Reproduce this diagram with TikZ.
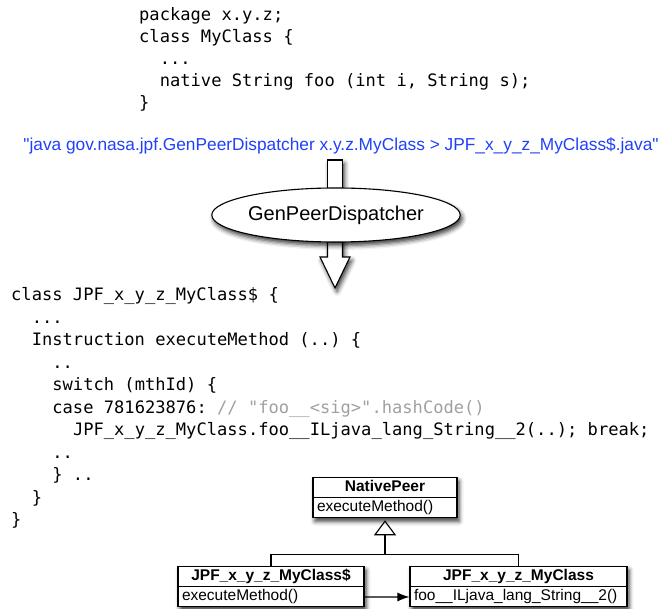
\documentclass[tikz,border=0pt]{standalone}
\usepackage{fontspec}
\setmainfont{Liberation Sans}
\setmonofont{DejaVu Sans Mono}
% plain family: keeps straight quotes as typed
\newfontfamily\cmdfont{Liberation Sans}
\usetikzlibrary{shapes.geometric,shapes.multipart,shadows.blur,arrows.meta,calc}

\definecolor{cmdblue}{RGB}{32,64,250}
\definecolor{cmtgray}{RGB}{160,160,160}
\newcommand\umlstrut{\rule[-3.5pt]{0pt}{15pt}}

\begin{document}
\begin{tikzpicture}[x=1pt,y=-1pt,
  code/.style={anchor=base west,inner sep=0pt,
    font=\ttfamily\fontsize{17.1}{20}\selectfont},
  soft/.style={blur shadow={shadow xshift=2pt,shadow yshift=-3.5pt,
    shadow blur radius=4.5pt,shadow opacity=80}},
  blockarrow/.style={draw,line width=1.1pt,fill=white,line join=miter,soft},
  umlclass/.style={rectangle split,rectangle split parts=2,draw,
    line width=1.1pt,fill=white,inner xsep=4pt,inner ysep=2pt,
    font=\fontsize{15.5}{18}\selectfont,
    rectangle split part align={center,left},anchor=north,soft},
  link/.style={line width=1.1pt}]

\useasboundingbox (0,0) rectangle (662,609);

% ---- source of the native class ----
\node[code] (t1) at (139,20.5) {package x.y.z;};
\node[code] (t2) at (139,42.5) {class MyClass \{};
\node[code] (t3) at (159.6,64.5) {...};
\node[code] (t4) at (159.6,86.5) {native String foo (int i, String s);};
\node[code] (t5) at (139,108.5) {\}};

% ---- command line ----
\node[anchor=base,inner sep=0pt,text=cmdblue,
  font=\cmdfont\fontsize{17.3}{20}\selectfont] (cmd) at (341,151)
  {"java gov.nasa.jpf.GenPeerDispatcher x.y.z.MyClass > JPF\_x\_y\_z\_MyClass\$.java"};

% ---- generator with block arrow ----
\draw[blockarrow] (327.5,236) -- (327.5,257) -- (320,257) -- (335,288)
  -- (350,257) -- (342.5,257) -- (342.5,236) -- cycle;
\draw[blockarrow] (327.5,160) rectangle (342.5,200);
\node[ellipse,draw,line width=1.1pt,fill=white,minimum width=241,
  minimum height=54,inner sep=0pt,font=\fontsize{20}{24}\selectfont,soft]
  (gen) at (336,215) {GenPeerDispatcher};

% ---- generated dispatcher source ----
\node[code] (b1) at (11,300.7) {class JPF\_x\_y\_z\_MyClass\$ \{};
\node[code] (b2) at (31.6,323.2) {...};
\node[code] (b3) at (31.6,345.7) {Instruction executeMethod (..) \{};
\node[code] (b4) at (52.2,368.2) {..};
\node[code] (b5) at (52.2,390.7) {switch (mthId) \{};
\node[code] (b6) at (52.2,413.2) {case 781623876: {\color{cmtgray}// "foo\_\_<sig>".hashCode()}};
\node[code] (b7) at (72.8,435.7) {JPF\_x\_y\_z\_MyClass.foo\_\_ILjava\_lang\_String\_\_2(..); break;};
\node[code] (b8) at (52.2,458.2) {..};
\node[code] (b9) at (52.2,480.7) {\} ..};
\node[code] (b10) at (31.6,503.2) {\}};
\node[code] (b11) at (11,525.7) {\}};

% ---- class diagram ----
\node[umlclass,minimum width=144] (np) at (385,477)
  {\textbf{NativePeer}\umlstrut\nodepart{two}executeMethod()\umlstrut};
\node[umlclass,minimum width=186] (cs) at (271,566)
  {\textbf{JPF\_x\_y\_z\_MyClass\$}\umlstrut\nodepart{two}executeMethod()\umlstrut};
\node[umlclass,minimum width=217] (cm) at (518.5,566)
  {\textbf{JPF\_x\_y\_z\_MyClass}\umlstrut\nodepart{two}foo\_\_ILjava\_lang\_String\_\_2()\umlstrut};

\coordinate (j) at ($(np.south)+(0,36)$);
\draw[link] (cs.north) |- (j) -| (cm.north);
\draw[link,shorten >=2pt,-{Triangle[open,length=15pt,width=22pt]}] (j) -- (np.south);
\draw[link,-{Latex[length=12pt,width=9pt]}]
  ($(cs.one split east)!0.5!(cs.south east)$) --
  ($(cm.one split west)!0.5!(cm.south west)$);
\end{tikzpicture}
\end{document}
